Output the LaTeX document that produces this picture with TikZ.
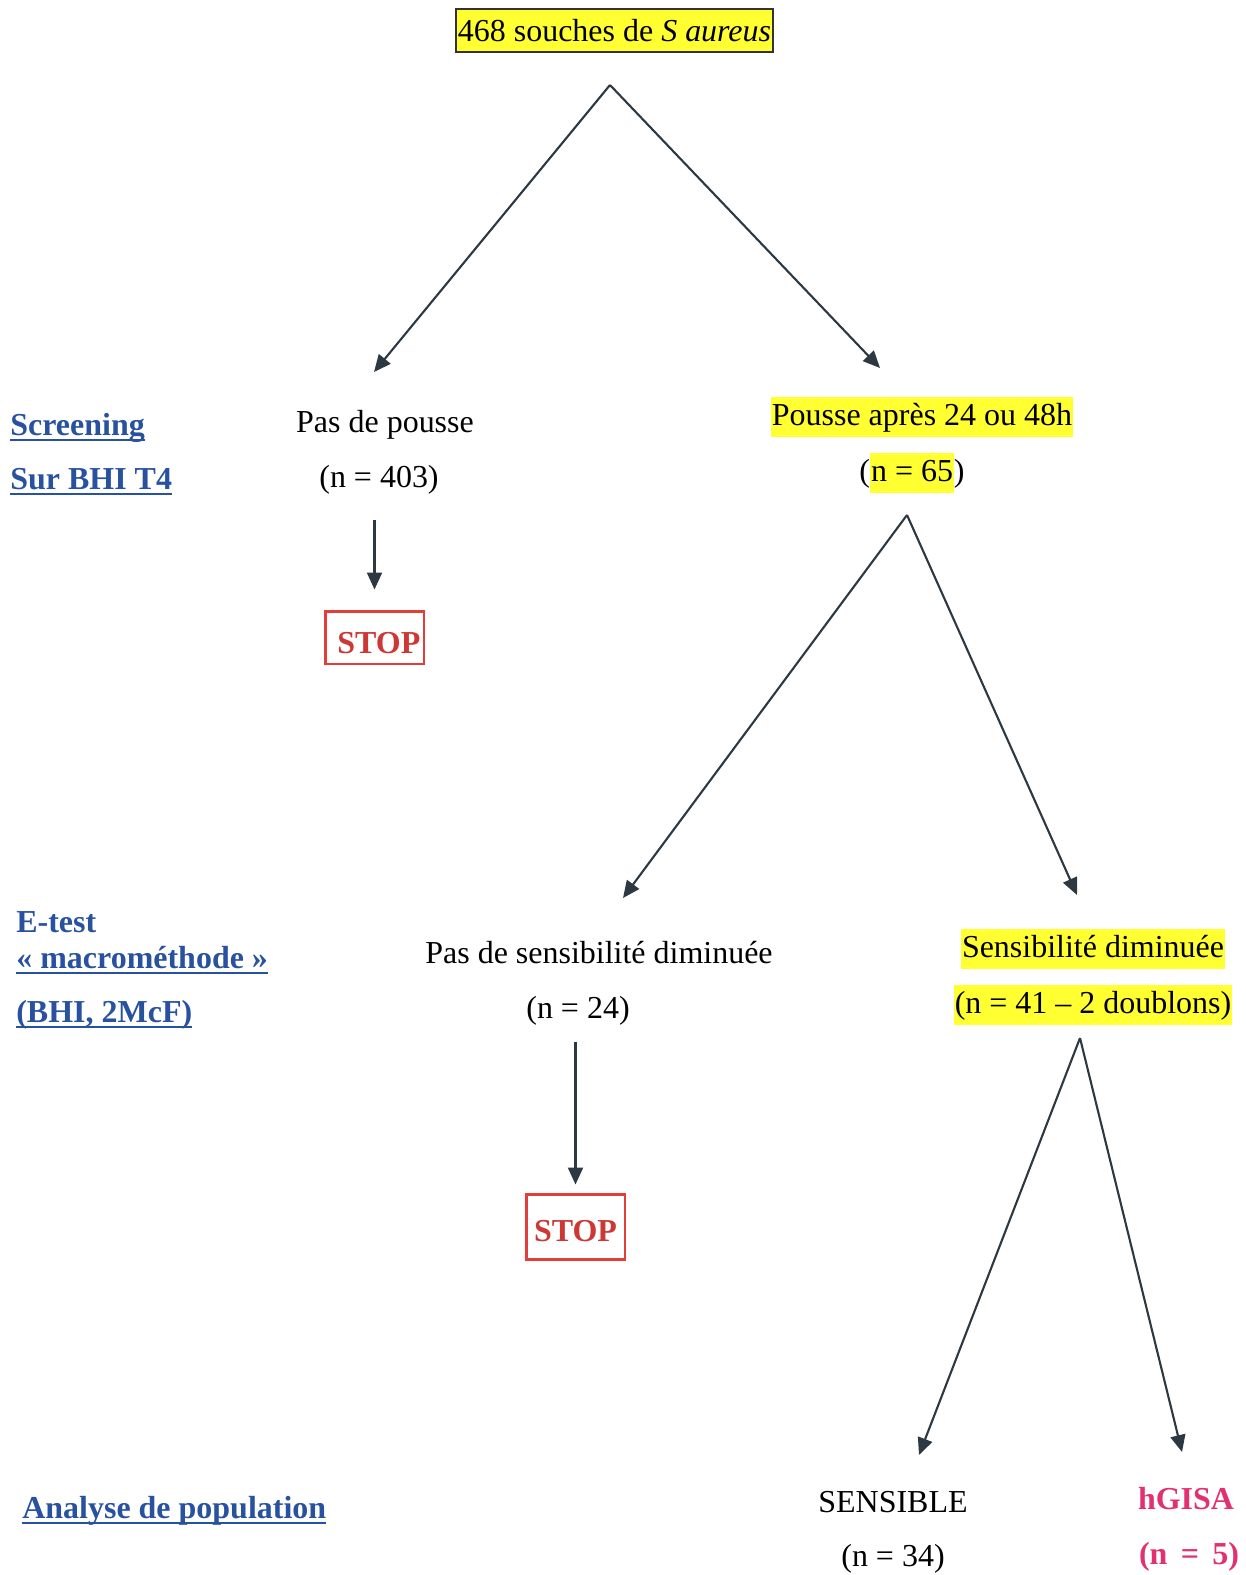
\documentclass[tikz,border=0pt]{standalone}
\usepackage{fontspec}
\setmainfont{Liberation Serif}
\usepackage{xcolor}
\usepackage{tikz}
\usetikzlibrary{arrows.meta}
\definecolor{hlyellow}{RGB}{255,255,50}
\definecolor{stepblue}{RGB}{40,82,160}
\definecolor{stopred}{RGB}{228,62,58}
\definecolor{gisapink}{RGB}{226,48,112}
\definecolor{arrowgrey}{RGB}{44,56,66}
\newcommand{\bigfont}{\fontsize{18.2}{22}\selectfont}
\newcommand{\hl}[1]{{\setlength{\fboxsep}{0.5pt}\colorbox{hlyellow}{\strut#1}}}
\newsavebox{\ulbox}
\newcommand{\ulbl}[1]{\sbox{\ulbox}{#1}\rlap{\rule[-3.5pt]{\wd\ulbox}{1.1pt}}\usebox{\ulbox}}
\tikzset{
  txt/.style    ={anchor=base, inner sep=0pt, font=\bigfont},
  lbl/.style    ={anchor=base west, inner sep=0pt, font=\bigfont\bfseries, text=stepblue},
  gisa/.style   ={anchor=base, inner sep=0pt, font=\bigfont\bfseries, text=gisapink},
  rootbox/.style={rectangle, draw=black!80, fill=hlyellow, line width=0.8pt,
                  inner xsep=0.04cm, inner ysep=0pt, minimum height=0.86cm, font=\bigfont},
  stopbox/.style={rectangle, draw=stopred, line width=1.7pt, text=stopred!90!black,
                  inner sep=0pt, minimum width=1.98cm, text depth=0pt, font=\bigfont\bfseries},
  flow/.style   ={-{Triangle[length=3.4mm,width=3mm]}, line width=1.2pt, draw=arrowgrey, fill=arrowgrey},
}
\begin{document}
\begin{tikzpicture}[x=0.02cm, y=-0.02cm]
  \useasboundingbox (0,0) rectangle (1246,1575);
  % step labels on the left
  \node[lbl] (scr)  at (10,435)   {\ulbl{Screening}};
  \node[lbl] (bhi)  at (10,489)   {\ulbl{Sur BHI T4}};
  \node[lbl] (etst) at (16,932)   {E-test};
  \node[lbl] (macro) at (16,968)  {\ulbl{« macrométhode »}};
  \node[lbl] (mcf)  at (16,1022)  {\ulbl{(BHI, 2McF)}};
  \node[lbl] (pop)  at (22,1518)  {\ulbl{Analyse de population}};
  % tree
  \node[rootbox] (root) at (614.5,30.5) {468 souches de \textit{S aureus}};
  \node[txt] (nopousse) at (385,432)  {Pas de pousse};
  \node[txt] (n403)     at (379,487)  {(n = 403)};
  \node[stopbox, minimum height=1.06cm, text height=18.2pt] (stop1) at (374.5,637.5) {\hspace*{5pt}STOP};
  \node[txt] (pousse)   at (922,425)  {\hl{Pousse après 24 ou 48h}};
  \node[txt] (n65)      at (912,481)  {(\hl{n = 65})};
  \node[txt] (nodim)    at (599,963)  {Pas de sensibilité diminuée};
  \node[txt] (n24)      at (578,1018) {(n = 24)};
  \node[stopbox, minimum height=1.3cm, text height=16.5pt] (stop2) at (575.5,1226.5) {STOP};
  \node[txt] (dim)      at (1093,957) {\hl{Sensibilité diminuée}};
  \node[txt] (n41)      at (1093,1013) {\hl{(n = 41 -- 2 doublons)}};
  \node[txt] (sens)     at (893,1512) {SENSIBLE};
  \node[txt] (n34)      at (893,1566) {(n = 34)};
  \node[gisa] (hgisa)   at (1186,1509) {hGISA};
  \node[gisa] (n5)      at (1189,1564) {(n\ \,=\ \,5)};
  % split points and arrow tips
  \coordinate (split1) at (610,85);
  \coordinate (split2) at (907,515);
  \coordinate (split3) at (1080,1038);
  \coordinate (tipA) at (374,372);  \coordinate (tipB) at (880,368);
  \coordinate (tipC) at (623,898);  \coordinate (tipD) at (1077,895);
  \coordinate (tipE) at (919,1455); \coordinate (tipF) at (1182,1452);
  \draw[flow] (split1)--(tipA); \draw[flow] (split1)--(tipB);
  \draw[flow] (split2)--(tipC); \draw[flow] (split2)--(tipD);
  \draw[flow] (split3)--(tipE); \draw[flow] (split3)--(tipF);
  \draw[flow, shorten <=0.52cm, shorten >=0.4cm] (n403.south -| stop1.north) -- (stop1.north);
  \draw[flow, shorten <=0.34cm, shorten >=0.16cm] (n24.south -| stop2.north) -- (stop2.north);
\end{tikzpicture}
\end{document}
